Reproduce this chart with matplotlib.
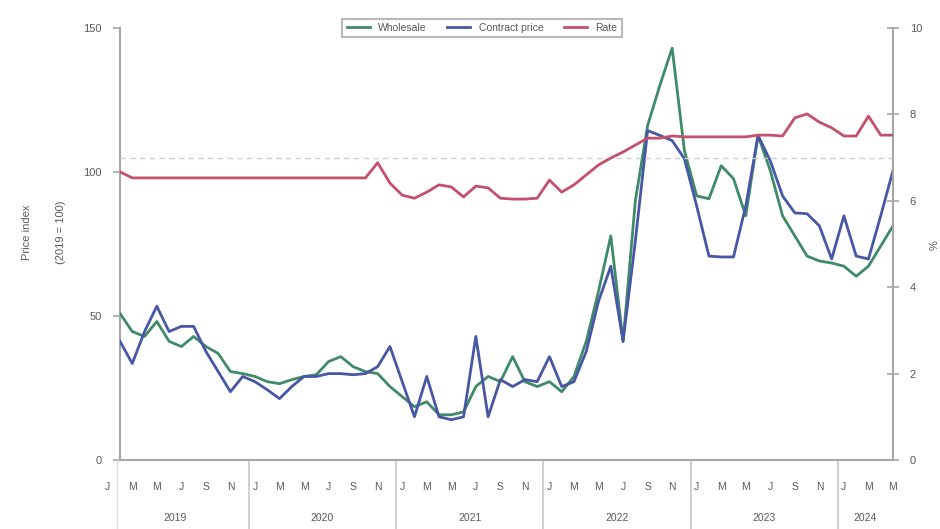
import matplotlib
matplotlib.use("Agg")
import matplotlib.pyplot as plt
import matplotlib.transforms as mtransforms
from matplotlib.lines import Line2D

plt.rcParams['font.family'] = ['Liberation Sans', 'DejaVu Sans']

# ---- data (monthly, Feb 2019 .. May 2024) ----
start_index = 1  # Jan 2019 = 0
series_a = [50.9, 44.6, 42.9, 48.1, 41.2, 39.4, 42.9, 39.4, 37.0, 30.7, 30.0,
            29.0, 27.2, 26.5, 27.9, 29.0, 29.6, 34.2, 35.9, 32.4, 30.7, 30.0,
            25.5, 22.0, 18.5, 20.2, 15.7, 15.7, 16.7, 25.5, 29.0, 27.2, 35.9,
            27.2, 25.5, 27.2, 23.7, 29.0, 41.2, 58.6, 77.8, 41.2, 90.0, 116.1,
            130.1, 143.0, 107.4, 91.7, 90.7, 102.2, 97.7, 84.8, 112.7, 100.5,
            84.8, 77.8, 70.8, 69.1, 68.4, 67.3, 63.8, 67.3, 74.3, 81.3]
series_b = [41.2, 33.5, 44.6, 53.4, 44.6, 46.4, 46.4, 37.7, 30.7, 23.7, 29.0,
            27.2, 24.4, 21.3, 25.5, 29.0, 29.0, 30.0, 30.0, 29.6, 30.0, 32.4,
            39.4, 27.2, 15.0, 29.0, 15.0, 14.0, 15.0, 42.9, 15.0, 27.9, 25.5,
            27.9, 27.2, 35.9, 25.5, 27.2, 37.7, 55.1, 67.3, 41.2, 76.0, 114.4,
            112.7, 110.9, 104.6, 88.2, 70.8, 70.5, 70.5, 88.2, 112.7, 103.9,
            91.7, 85.8, 85.5, 81.3, 69.8, 84.8, 70.8, 69.8, 84.8, 100.5]
series_c = [6.67, 6.53, 6.53, 6.53, 6.53, 6.53, 6.53, 6.53, 6.53, 6.53, 6.53,
            6.53, 6.53, 6.53, 6.53, 6.53, 6.53, 6.53, 6.53, 6.53, 6.53, 6.88,
            6.41, 6.13, 6.06, 6.20, 6.37, 6.32, 6.09, 6.34, 6.30, 6.06, 6.04,
            6.04, 6.06, 6.48, 6.20, 6.37, 6.60, 6.83, 6.99, 7.13, 7.29, 7.45,
            7.45, 7.50, 7.48, 7.48, 7.48, 7.48, 7.48, 7.48, 7.52, 7.52, 7.50,
            7.92, 8.01, 7.82, 7.69, 7.50, 7.50, 7.96, 7.52, 7.52]
reference_level = 7.0
legend_labels = ['Wholesale', 'Contract price', 'Rate']
left_axis_label = ['Price index', '(2019 = 100)']
right_axis_label = '%'
years = ['2019', '2020', '2021', '2022', '2023', '2024']
month_letters = ['J', 'F', 'M', 'A', 'M', 'J', 'J', 'A', 'S', 'O', 'N', 'D']
left_ticks = [0, 50, 100, 150]
right_ticks = [0, 2, 4, 6, 8, 10]

n = len(series_a)
xs = list(range(start_index, start_index + n))

green = '#3f8a68'
blue = '#4757a6'
red = '#c4506c'
grey = '#a6a6a6'
text_col = '#595959'

fig = plt.figure(figsize=(9.4, 5.29), dpi=100)
ax = fig.add_axes([120/940, 1-460/529, (893-120)/940, (460-28)/529])
ax2 = ax.twinx()

ax.plot(xs, series_a, color=green, lw=2.0, zorder=3)
ax.plot(xs, series_b, color=blue, lw=2.0, zorder=4)
ax2.plot(xs, series_c, color=red, lw=2.0, zorder=3)
ax2.axhline(reference_level, color='#cfcfcf', lw=1.0, ls=(0, (4, 3)), zorder=1)

ax.set_xlim(xs[0], xs[-1])
ax.set_ylim(0, 150)
ax2.set_ylim(0, 10)
ax.set_yticks(left_ticks)
ax2.set_yticks(right_ticks)

for a in (ax, ax2):
    a.spines['top'].set_visible(False)
    for s in ('left', 'right', 'bottom'):
        a.spines[s].set_color(grey)
        a.spines[s].set_linewidth(1.5)
ax.spines['right'].set_visible(False)
ax2.spines['left'].set_visible(False)
ax2.spines['bottom'].set_visible(False)

ax.tick_params(axis='y', direction='out', length=5, width=1.2, color=grey,
               labelsize=8, labelcolor=text_col, pad=8)
ax2.tick_params(axis='y', direction='inout', length=8, width=1.2, color=grey,
                labelsize=8, labelcolor=text_col, pad=8)
ax.set_xticks([])

# month and year labels
trans = mtransforms.blended_transform_factory(ax.transData, ax.transAxes)
last = xs[-1]
for k in range(0, last + 1):
    if k % 2 == 0:
        ax.text(k, -0.0625, month_letters[k % 12], transform=trans, ha='center',
                va='center', fontsize=7.5, color=text_col, clip_on=False)
bounds = [-0.5 + 12 * j for j in range(len(years))] + [last + 0.5]
for j, yr in enumerate(years):
    lo = bounds[j]
    hi = bounds[j + 1] if j < len(years) - 1 else last
    ax.text((lo + hi) / 2, -0.134, yr, transform=trans, ha='center',
            va='center', fontsize=7.5, color=text_col, clip_on=False)
for j in range(1, len(years)):
    b = bounds[j]
    ax.add_line(Line2D([b, b], [0, -0.17], transform=trans, color='#c8c8c8',
                       lw=1.2, clip_on=False))
ax.add_line(Line2D([xs[0] - 0.25, xs[0] - 0.25], [0, -0.17], transform=trans,
                   color='#dcdcdc', lw=1.0, clip_on=False))

# axis titles
fig.text(27/940, 1-232/529, left_axis_label[0], rotation=90, ha='center',
         va='center', fontsize=8, color=text_col)
fig.text(61/940, 1-232/529, left_axis_label[1], rotation=90, ha='center',
         va='center', fontsize=8, color=text_col)
fig.text(935/940, 1-245/529, right_axis_label, rotation=90, ha='center',
         va='center', fontsize=8, color=text_col)

handles = [Line2D([], [], color=green, lw=2.0),
           Line2D([], [], color=blue, lw=2.0),
           Line2D([], [], color=red, lw=2.0)]
leg = fig.legend(handles, legend_labels, loc='center',
                 bbox_to_anchor=(482/940, 1-28/529), ncol=3, fontsize=7.5,
                 frameon=True, fancybox=False, handlelength=2.2,
                 columnspacing=2.0, borderpad=0.4)
leg.get_frame().set_edgecolor(grey)
leg.get_frame().set_linewidth(1.5)
for t in leg.get_texts():
    t.set_color(text_col)

fig.savefig('out.png', dpi=100)
